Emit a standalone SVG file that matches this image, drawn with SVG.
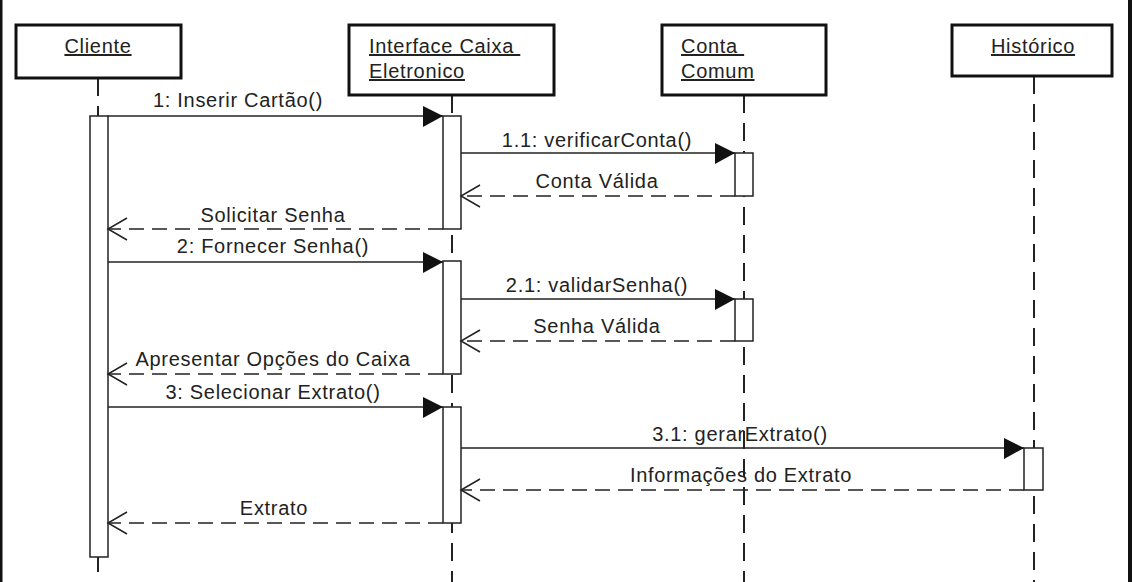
<svg xmlns="http://www.w3.org/2000/svg" width="1132" height="582" viewBox="0 0 1132 582">
  <style>
    .box { fill: #ffffff; stroke: #111111; stroke-width: 3; }
    .life { stroke: #222222; stroke-width: 2; stroke-dasharray: 18 10; fill: none; }
    .act { fill: #ffffff; stroke: #222222; stroke-width: 1.5; }
    .call { stroke: #222222; stroke-width: 1.5; fill: none; marker-end: url(#filled); }
    .ret { stroke: #222222; stroke-width: 1.5; fill: none; stroke-dasharray: 15 8; marker-end: url(#open); }
    text { font-family: "Liberation Sans", Arial, sans-serif; font-size: 20px; fill: #222222; letter-spacing: 0.7px; }
    .hdr { text-decoration: underline; }
    .lbl { text-anchor: middle; }
  </style>
  <defs>
    <marker id="filled" viewBox="-22 -12 23 24" refX="0" refY="0" markerWidth="23" markerHeight="24" markerUnits="userSpaceOnUse" orient="auto">
      <path d="M-20,-10 L0,0 L-20,11 Z" fill="#111111"/>
    </marker>
    <marker id="open" viewBox="-22 -13 24 26" refX="0" refY="0" markerWidth="24" markerHeight="26" markerUnits="userSpaceOnUse" orient="auto">
      <polyline points="-19,-11 0,0 -19,11" fill="none" stroke="#222222" stroke-width="1.5"/>
    </marker>
  </defs>
  <rect x="0" y="0" width="1132" height="582" fill="#ffffff"/>
  <rect x="0" y="0" width="2.5" height="582" fill="#111111"/>
  <rect x="1128" y="0" width="4" height="582" fill="#111111"/>

  <g id="lifelines">
    <line class="life" x1="98" y1="78" x2="98" y2="582"/>
    <line class="life" x1="452" y1="95" x2="452" y2="582"/>
    <line class="life" x1="744" y1="95" x2="744" y2="582"/>
    <line class="life" x1="1034" y1="76" x2="1034" y2="582"/>
  </g>

  <g id="cliente">
    <rect class="box" x="16" y="25" width="165" height="53"/>
    <text class="hdr" x="98" y="53" text-anchor="middle">Cliente</text>
    <rect class="act" x="90" y="116" width="18" height="441"/>
  </g>

  <g id="interface">
    <rect class="box" x="349" y="25" width="205" height="70"/>
    <text class="hdr" x="369" y="53" xml:space="preserve">Interface Caixa </text>
    <text class="hdr" x="369" y="78">Eletronico</text>
    <rect class="act" x="443" y="116" width="18" height="113"/>
    <rect class="act" x="443" y="261" width="18" height="113"/>
    <rect class="act" x="443" y="407" width="18" height="116"/>
  </g>

  <g id="conta">
    <rect class="box" x="662" y="25" width="164" height="70"/>
    <text class="hdr" x="681" y="53" xml:space="preserve">Conta </text>
    <text class="hdr" x="681" y="78">Comum</text>
    <rect class="act" x="735" y="153" width="18" height="43"/>
    <rect class="act" x="735" y="299" width="18" height="42"/>
  </g>

  <g id="historico">
    <rect class="box" x="952" y="25" width="160" height="51"/>
    <text class="hdr" x="1033" y="53" text-anchor="middle">Histórico</text>
    <rect class="act" x="1024" y="448" width="19" height="42"/>
  </g>

  <g id="connectors">
    <line class="call" x1="108" y1="116" x2="443" y2="116"/>
    <line class="call" x1="461" y1="153" x2="735" y2="153"/>
    <line class="ret" x1="735" y1="196" x2="461" y2="196"/>
    <line class="ret" x1="443" y1="229" x2="108" y2="229"/>
    <line class="call" x1="108" y1="262" x2="443" y2="262"/>
    <line class="call" x1="461" y1="299" x2="735" y2="299"/>
    <line class="ret" x1="735" y1="341" x2="461" y2="341"/>
    <line class="ret" x1="443" y1="374" x2="108" y2="374"/>
    <line class="call" x1="108" y1="407" x2="443" y2="407"/>
    <line class="call" x1="461" y1="448" x2="1024" y2="448"/>
    <line class="ret" x1="1024" y1="490" x2="461" y2="490"/>
    <line class="ret" x1="443" y1="523" x2="108" y2="523"/>
  </g>

  <g id="labels">
    <text class="lbl" x="238" y="107">1: Inserir Cartão()</text>
    <text class="lbl" x="597" y="147">1.1: verificarConta()</text>
    <text class="lbl" x="597" y="188">Conta Válida</text>
    <text class="lbl" x="273" y="222">Solicitar Senha</text>
    <text class="lbl" x="273" y="253">2: Fornecer Senha()</text>
    <text class="lbl" x="597" y="292">2.1: validarSenha()</text>
    <text class="lbl" x="597" y="333">Senha Válida</text>
    <text class="lbl" x="273" y="366">Apresentar Opções do Caixa</text>
    <text class="lbl" x="273" y="399">3: Selecionar Extrato()</text>
    <text class="lbl" x="740" y="441">3.1: gerarExtrato()</text>
    <text class="lbl" x="741" y="482">Informações do Extrato</text>
    <text class="lbl" x="274" y="515">Extrato</text>
  </g>
</svg>
